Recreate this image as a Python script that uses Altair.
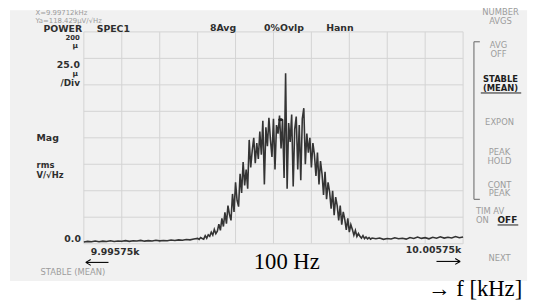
import altair as alt
import pandas as pd

# ---------------- data ----------------
# frequency offset in Hz from the left edge (9.99575 kHz), magnitude in µV/√Hz
flat_left_hz = [0.0, 0.1, 0.2, 0.3, 0.4, 0.5, 0.6, 0.7, 0.8, 0.9,
                1.0, 1.1, 1.2, 1.3, 1.4, 1.5, 1.6, 1.7, 1.8, 1.9,
                2.0, 2.1, 2.2, 2.3, 2.4, 2.5, 2.6, 2.7, 2.8, 2.9]
flat_left_uv = [1.6, 2.2, 1.8, 2.5, 1.9, 2.4, 2.0, 2.7, 2.1, 2.6,
                2.3, 2.9, 2.2, 2.8, 2.5, 3.1, 2.4, 2.9, 2.6, 3.2,
                2.7, 3.0, 2.8, 3.4, 3.0, 3.6, 3.3, 3.9, 3.6, 4.4]

band_hz = [3.00, 3.04, 3.08, 3.12, 3.16, 3.20, 3.24, 3.28, 3.32, 3.36,
           3.40, 3.44, 3.48, 3.52, 3.56, 3.60, 3.64, 3.68, 3.72, 3.76,
           3.80, 3.84, 3.88, 3.92, 3.96, 4.00, 4.04, 4.08, 4.12, 4.16,
           4.20, 4.24, 4.28, 4.32, 4.36, 4.40, 4.44, 4.48, 4.52, 4.56,
           4.60, 4.64, 4.68, 4.72, 4.76, 4.80, 4.84, 4.88, 4.92, 4.96,
           5.00, 5.04, 5.08, 5.12, 5.16, 5.20, 5.24, 5.28, 5.32, 5.36,
           5.40, 5.44, 5.48, 5.52, 5.56, 5.60, 5.64, 5.68, 5.72, 5.76,
           5.80, 5.84, 5.88, 5.92, 5.96, 6.00, 6.04, 6.08, 6.12, 6.16,
           6.20, 6.24, 6.28, 6.32, 6.36, 6.40, 6.44, 6.48, 6.52, 6.56,
           6.60, 6.64, 6.68, 6.72, 6.76, 6.80, 6.84, 6.88, 6.92, 6.96,
           7.00, 7.04, 7.08, 7.12, 7.16, 7.20, 7.24, 7.28, 7.32, 7.36,
           7.40, 7.44, 7.48, 7.52, 7.56, 7.60]
band_uv = [5.0, 4.1, 5.8, 4.9, 4.3, 7.6, 5.2, 8.4, 6.9, 10.8,
           8.1, 13.5, 9.4, 11.8, 18.5, 12.6, 24.0, 16.2, 29.5, 19.0,
           36.0, 27.5, 22.0, 47.0, 30.0, 58.0, 41.0, 35.0, 66.0, 48.0,
           77.0, 55.0, 70.0, 52.0, 98.0, 72.0, 88.0, 100.0, 76.0, 95.0,
           80.0, 106.0, 84.0, 116.0, 56.0, 110.0, 92.0, 119.0, 98.0, 82.0,
           118.0, 70.0, 112.0, 104.0, 121.0, 90.0, 117.0, 62.0, 161.0, 52.0,
           114.0, 96.0, 122.0, 54.0, 108.0, 120.0, 70.0, 112.0, 60.0, 118.0,
           128.0, 75.0, 104.0, 86.0, 100.0, 72.0, 95.0, 84.0, 64.0, 86.0,
           56.0, 78.0, 66.0, 46.0, 68.0, 42.0, 58.0, 49.0, 33.0, 50.0,
           27.0, 44.0, 36.0, 22.0, 36.0, 18.0, 30.0, 23.0, 13.0, 24.0,
           11.0, 18.0, 13.5, 8.0, 12.5, 6.8, 9.6, 7.0, 5.2, 7.6,
           4.8, 6.4, 4.5, 5.8, 4.3, 5.3]

flat_right_hz = [7.7, 7.8, 7.9, 8.0, 8.1, 8.2, 8.3, 8.4, 8.5, 8.6,
                 8.7, 8.8, 8.9, 9.0, 9.1, 9.2, 9.3, 9.4, 9.5, 9.6,
                 9.7, 9.8, 9.9, 10.0]
flat_right_uv = [4.6, 5.3, 4.1, 4.9, 4.4, 5.6, 4.7, 5.2, 4.3, 5.8,
                 4.9, 6.2, 5.0, 5.7, 4.6, 6.0, 5.1, 6.5, 5.3, 6.1,
                 5.4, 6.8, 5.6, 6.3]

marker_hz = [5.19]
marker_uv = [117.0]

x_grid_hz = [0, 1, 2, 3, 4, 5, 6, 7, 8, 9, 10]
y_grid_uv = [0, 25, 50, 75, 100, 125, 150, 175, 200]

# ---------------- layout ----------------
PX0, PY0 = 85, 30          # plot-area origin on the page
W, H = 385, 215

trace = pd.DataFrame({
    "hz": flat_left_hz + band_hz + flat_right_hz,
    "uv": flat_left_uv + band_uv + flat_right_uv,
})
marker = pd.DataFrame({"hz": marker_hz, "uv": marker_uv})
one = pd.DataFrame({"k": [0]})

xs = alt.Scale(domain=[0, 10], nice=False, zero=False)
ys = alt.Scale(domain=[0, 200], nice=False, zero=True)


def txt(s, px, py, size=9, color="#333333", weight="bold", align="left",
        font="DejaVu Sans", baseline="middle"):
    return alt.Chart(one).mark_text(
        text=s, fontSize=size, color=color, fontWeight=weight, align=align,
        font=font, baseline=baseline
    ).encode(x=alt.value(px - PX0), y=alt.value(py - PY0))


def rule(x1, y1, x2, y2, color="#888888", w=1.0):
    return alt.Chart(one).mark_rule(color=color, strokeWidth=w).encode(
        x=alt.value(x1 - PX0), x2=alt.value(x2 - PX0),
        y=alt.value(y1 - PY0), y2=alt.value(y2 - PY0))


def arrow(x_tail, x_head, y, color="#000000"):
    d = 5 if x_head > x_tail else -5
    return [
        rule(x_tail, y, x_head, y, color=color, w=1.1),
        rule(x_head, y, x_head - d, y - 3, color=color, w=1.1),
        rule(x_head, y, x_head - d, y + 3, color=color, w=1.1),
    ]


bg = alt.Chart(one).mark_rect(color="#f1f1f1").encode(
    x=alt.value(10 - PX0), x2=alt.value(535 - PX0),
    y=alt.value(8 - PY0), y2=alt.value(283 - PY0))

vgrid = alt.Chart(pd.DataFrame({"hz": x_grid_hz})).mark_rule(
    color="#d3d3d3", strokeWidth=1).encode(x=alt.X("hz:Q", scale=xs, axis=None))
hgrid = alt.Chart(pd.DataFrame({"uv": y_grid_uv})).mark_rule(
    color="#d3d3d3", strokeWidth=1).encode(y=alt.Y("uv:Q", scale=ys, axis=None))

line = alt.Chart(trace).mark_line(color="#343434", strokeWidth=1.6).encode(
    x=alt.X("hz:Q", scale=xs, axis=None),
    y=alt.Y("uv:Q", scale=ys, axis=None),
    order="hz:Q",
)

mark = alt.Chart(marker).mark_point(
    shape="M-1,0A1,0.55,0,1,0,1,0A1,0.55,0,1,0,-1,0Z",
    filled=True, color="#222222", size=28, opacity=1).encode(
    x=alt.X("hz:Q", scale=xs, axis=None), y=alt.Y("uv:Q", scale=ys, axis=None))

gray = "#9c9c9c"
dark = "#2e2e2e"
texts = [
    # header
    txt("X=9.99712kHz", 36, 11, size=7, color=gray, weight="normal"),
    txt("Ya=118.429µV/√Hz", 36, 18.5, size=7, color=gray, weight="normal"),
    txt("POWER", 44, 27.5, size=9.5, color=dark),
    txt("SPEC1", 98, 27.5, size=9.5, color=dark),
    txt("8Avg", 213, 26.5, size=9.5, color=dark),
    txt("0%Ovlp", 268, 26.5, size=9.5, color=dark),
    txt("Hann", 331, 26.5, size=9.5, color=dark),
    # y side labels
    txt("200", 81, 36, size=7, align="right", color=dark),
    txt("µ", 79, 44.5, size=7.5, align="right", color=dark),
    txt("25.0", 81, 64, size=9.5, align="right", color=dark),
    txt("µ", 79, 73, size=7.5, align="right", color=dark),
    txt("/Div", 81, 82, size=9, align="right", color=dark),
    txt("Mag", 37, 138, size=9.5, color=dark),
    txt("rms", 37, 165.5, size=8.5, color=dark),
    txt("V/√Hz", 37, 175, size=8.5, color=dark),
    txt("0.0", 82, 240, size=9.5, align="right", color=dark),
    # x end labels
    txt("9.99575k", 92, 253, size=9.5, color=dark),
    txt("10.00575k", 468, 251.5, size=9.5, align="right", color=dark),
    txt("STABLE  (MEAN)", 41, 274, size=8.5, color=gray, weight="normal"),
    # soft keys on the right
    txt("NUMBER", 508, 10, size=8.5, color=gray, weight="normal", align="center"),
    txt("AVGS", 508, 19, size=8.5, color=gray, weight="normal", align="center"),
    txt("AVG", 506, 43, size=8.5, color=gray, weight="normal", align="center"),
    txt("OFF", 506, 52, size=8.5, color=gray, weight="normal", align="center"),
    txt("STABLE", 508, 77.5, size=8.5, color="#1e1e1e", align="center"),
    txt("(MEAN)", 508, 87, size=8.5, color="#1e1e1e", align="center"),
    txt("EXPON", 507, 122, size=8.5, color=gray, weight="normal", align="center"),
    txt("PEAK", 507, 152, size=8.5, color=gray, weight="normal", align="center"),
    txt("HOLD", 507, 161, size=8.5, color=gray, weight="normal", align="center"),
    txt("CONT", 507, 185, size=8.5, color=gray, weight="normal", align="center"),
    txt("PEAK", 507, 194, size=8.5, color=gray, weight="normal", align="center"),
    txt("TIM AV", 483, 212, size=8.5, color=gray, weight="normal"),
    txt("ON", 483, 221, size=8.5, color=gray, weight="normal"),
    txt("OFF", 505, 221, size=9, color="#1e1e1e"),
    txt("NEXT", 507, 260, size=8.5, color=gray, weight="normal", align="center"),
    # annotations added on the figure
    txt("100 Hz", 291, 271, size=23, color="#000000", weight="normal",
        align="center", font="Liberation Serif", baseline="alphabetic"),
    txt("→ f [kHz]", 530, 298, size=23, color="#000000", weight="normal",
        align="right", font="Liberation Serif", baseline="alphabetic"),
]

rules = [
    rule(481, 40, 481, 200, color="#7a7a7a", w=1.2),
    rule(481, 40, 487, 40, color="#7a7a7a", w=1.2),
    rule(481, 200, 487, 200, color="#7a7a7a", w=1.2),
    rule(488, 92, 529, 92, color="#1e1e1e", w=1.0),
    rule(505, 226, 526, 226, color="#1e1e1e", w=1.0),
] + arrow(110, 87, 264) + arrow(443, 467, 263)

chart = alt.layer(bg, vgrid, hgrid, line, mark, *texts, *rules).properties(
    width=W, height=H,
    autosize=alt.AutoSizeParams(type="none"),
    padding={"left": 77, "top": 22, "right": 73, "bottom": 62},
).configure_view(strokeWidth=0)

chart.save("out.html", embed_options={"renderer": "svg", "actions": False})
